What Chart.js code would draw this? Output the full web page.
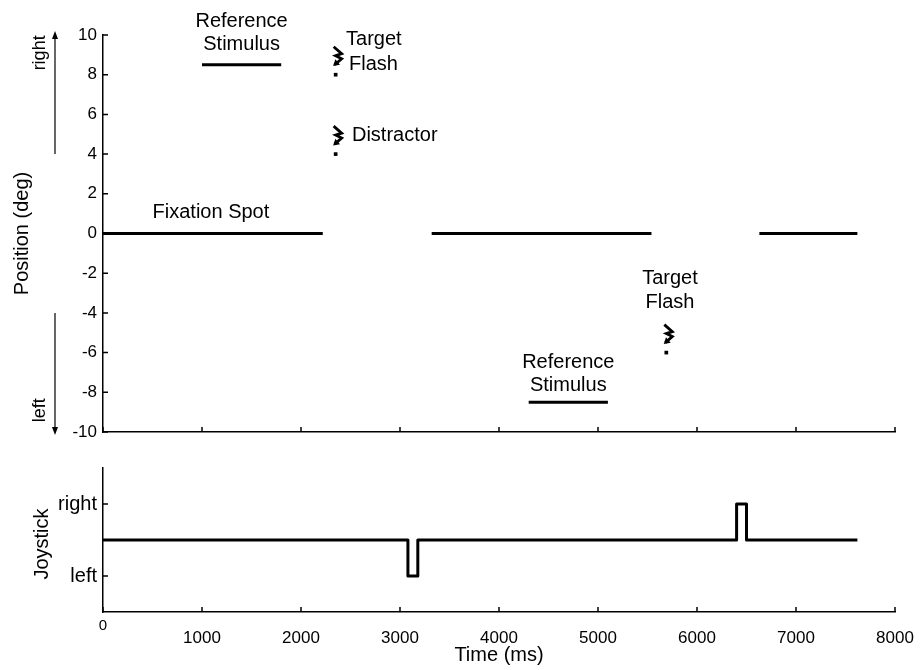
<!DOCTYPE html>
<html>
<head>
<meta charset="utf-8">
<script src="https://cdn.jsdelivr.net/npm/chart.js@4.4.1/dist/chart.umd.min.js"></script>
<style>
  html, body { margin: 0; padding: 0; background: #fff; }
  #wrap { position: relative; width: 923px; height: 670px; }
  #wrap canvas { position: absolute; left: 0; }
  #posChart { top: 0; }
  #joyChart { top: 450px; }
</style>
</head>
<body>
<div id="wrap">
  <canvas id="posChart" width="923" height="450"></canvas>
  <canvas id="joyChart" width="923" height="220"></canvas>
</div>
<script>
// fixation spot on screen (ms)
const fixStart = [0, 3320, 6630];
const fixEnd = [2220, 5540, 7620];

// reference stimulus bars
const refStart = [1000, 4300];
const refEnd = [1800, 5100];
const refPos = [8.5, -8.5];

// flashes
const flashTime = [2350, 2350, 5690];
const flashPos = [8, 4, -6];

// joystick trace
const joyTime = [0, 3080, 3080, 3180, 3180, 6400, 6400, 6500, 6500, 7620];
const joyPos = [0, 0, -1, -1, 0, 0, 1, 1, 0, 0];
const joyTickValues = [-1, 1];
const joyTickLabels = ['left', 'right'];

const FONT = 'Liberation Sans, Arial, Helvetica, sans-serif';

// text labels placed in data coordinates
const notes = [
  { text: 'Reference', x: 1400, y: 10.7, align: 'center' },
  { text: 'Stimulus', x: 1400, y: 9.5, align: 'center' },
  { text: 'Target', x: 2455, y: 9.77, align: 'left' },
  { text: 'Flash', x: 2485, y: 8.5, align: 'left' },
  { text: 'Distractor', x: 2515, y: 4.94, align: 'left' },
  { text: 'Fixation Spot', x: 1090, y: 1.06, align: 'center' },
  { text: 'Target', x: 5727, y: -2.27, align: 'center' },
  { text: 'Flash', x: 5727, y: -3.48, align: 'center' },
  { text: 'Reference', x: 4700, y: -6.5, align: 'center' },
  { text: 'Stimulus', x: 4700, y: -7.66, align: 'center' },
];

Chart.defaults.font.family = FONT;
Chart.defaults.color = '#000';

function segment(x0, x1, y) {
  return {
    data: [{ x: x0, y: y }, { x: x1, y: y }],
    showLine: true,
    borderColor: '#000',
    borderWidth: 3,
    pointRadius: 0,
    borderCapStyle: 'butt',
  };
}

function inwardTicks(ctx, x, y) {
  ctx.save();
  ctx.strokeStyle = '#000';
  ctx.lineWidth = 1.5;
  ctx.beginPath();
  x.ticks.forEach((t) => {
    const px = x.getPixelForValue(t.value);
    ctx.moveTo(px, x.top);
    ctx.lineTo(px, x.top - 5);
  });
  y.ticks.forEach((t) => {
    const py = y.getPixelForValue(t.value);
    ctx.moveTo(y.right, py);
    ctx.lineTo(y.right + 5, py);
  });
  ctx.stroke();
  ctx.restore();
}

function drawFlash(ctx, px, py) {
  const pts = [[-2, -28], [6, -21], [0, -19], [6, -16], [-1, -10]];
  ctx.save();
  ctx.strokeStyle = '#000';
  ctx.fillStyle = '#000';
  ctx.lineWidth = 2.8;
  ctx.lineJoin = 'miter';
  ctx.beginPath();
  pts.forEach((p, i) => {
    if (i === 0) ctx.moveTo(px + p[0], py + p[1]);
    else ctx.lineTo(px + p[0], py + p[1]);
  });
  ctx.stroke();
  // arrow head at the tip
  const a = pts[3], b = pts[4];
  const ang = Math.atan2(b[1] - a[1], b[0] - a[0]);
  const tx = px + b[0] + Math.cos(ang) * 2, ty = py + b[1] + Math.sin(ang) * 2;
  ctx.beginPath();
  ctx.moveTo(tx, ty);
  ctx.lineTo(tx + Math.cos(ang + 2.6) * 7, ty + Math.sin(ang + 2.6) * 7);
  ctx.lineTo(tx + Math.cos(ang - 2.6) * 7, ty + Math.sin(ang - 2.6) * 7);
  ctx.closePath();
  ctx.fill();
  ctx.restore();
}

function vArrow(ctx, x, y0, y1) {
  const dir = y1 < y0 ? -1 : 1;
  ctx.save();
  ctx.strokeStyle = '#000';
  ctx.fillStyle = '#000';
  ctx.lineWidth = 1.2;
  ctx.beginPath();
  ctx.moveTo(x, y0);
  ctx.lineTo(x, y1 - dir * 6);
  ctx.stroke();
  ctx.beginPath();
  ctx.moveTo(x, y1);
  ctx.lineTo(x - 3, y1 - dir * 8);
  ctx.lineTo(x + 3, y1 - dir * 8);
  ctx.closePath();
  ctx.fill();
  ctx.restore();
}

function rotText(ctx, text, x, y, size) {
  ctx.save();
  ctx.translate(x, y);
  ctx.rotate(-Math.PI / 2);
  ctx.font = size + 'px ' + FONT;
  ctx.fillStyle = '#000';
  ctx.textAlign = 'center';
  ctx.textBaseline = 'middle';
  ctx.fillText(text, 0, 0);
  ctx.restore();
}

const posDecor = {
  id: 'posDecor',
  afterDraw(chart) {
    const { ctx } = chart;
    const { x, y } = chart.scales;
    inwardTicks(ctx, x, y);

    flashTime.forEach((t, i) => {
      drawFlash(ctx, x.getPixelForValue(t), y.getPixelForValue(flashPos[i]));
    });

    ctx.save();
    ctx.font = '20px ' + FONT;
    ctx.fillStyle = '#000';
    ctx.textBaseline = 'middle';
    notes.forEach((n) => {
      ctx.textAlign = n.align;
      ctx.fillText(n.text, x.getPixelForValue(n.x), y.getPixelForValue(n.y));
    });
    ctx.restore();

    vArrow(ctx, 55, y.getPixelForValue(4), y.getPixelForValue(10) - 4);
    vArrow(ctx, 55, y.getPixelForValue(-4), y.getPixelForValue(-10) + 3);
    rotText(ctx, 'right', 40, y.getPixelForValue(9.1), 18);
    rotText(ctx, 'left', 40, y.getPixelForValue(-8.9), 18);
    rotText(ctx, 'Position (deg)', 22, y.getPixelForValue(0), 20);
  },
};

const joyDecor = {
  id: 'joyDecor',
  afterDraw(chart) {
    const { ctx } = chart;
    const { x, y } = chart.scales;
    inwardTicks(ctx, x, y);
    rotText(ctx, 'Joystick', 42, y.getPixelForValue(0) + 4, 20);
    ctx.save();
    ctx.fillStyle = '#000';
    ctx.textAlign = 'center';
    ctx.textBaseline = 'middle';
    ctx.font = '20px ' + FONT;
    ctx.fillText('Time (ms)', x.getPixelForValue(4000), 205);
    ctx.font = '15px ' + FONT;
    ctx.fillText('0', x.getPixelForValue(0), 176);
    ctx.restore();
  },
};

const axisBorder = { display: true, color: '#000', width: 1.5 };
const noGrid = { display: false, drawTicks: false };

new Chart(document.getElementById('posChart'), {
  type: 'scatter',
  data: {
    datasets: [
      ...fixStart.map((s, i) => segment(s, fixEnd[i], 0)),
      ...refStart.map((s, i) => segment(s, refEnd[i], refPos[i])),
      {
        data: flashTime.map((t, i) => ({ x: t, y: flashPos[i] })),
        pointStyle: 'rect',
        pointRadius: 2.6,
        pointBorderWidth: 0,
        pointBackgroundColor: '#000',
      },
    ],
  },
  options: {
    responsive: false,
    animation: false,
    layout: { padding: { top: 35, right: 28, left: 0, bottom: 0 } },
    plugins: { legend: { display: false }, tooltip: { enabled: false } },
    scales: {
      x: {
        type: 'linear',
        min: 0,
        max: 8000,
        grid: noGrid,
        border: axisBorder,
        ticks: { display: false, stepSize: 1000 },
        afterFit: (s) => { s.height = 18; s.paddingLeft = 0; s.paddingRight = 0; },
      },
      y: {
        min: -10,
        max: 10,
        grid: noGrid,
        border: axisBorder,
        ticks: { stepSize: 2, padding: 6, font: { size: 17 } },
        afterFit: (s) => { s.width = 103; },
      },
    },
  },
  plugins: [posDecor],
});

new Chart(document.getElementById('joyChart'), {
  type: 'scatter',
  data: {
    datasets: [
      {
        data: joyTime.map((t, i) => ({ x: t, y: joyPos[i] })),
        showLine: true,
        borderColor: '#000',
        borderWidth: 3,
        pointRadius: 0,
        borderJoinStyle: 'round',
      },
    ],
  },
  options: {
    responsive: false,
    animation: false,
    layout: { padding: { top: 18, right: 28, left: 0, bottom: 0 } },
    plugins: { legend: { display: false }, tooltip: { enabled: false } },
    scales: {
      x: {
        type: 'linear',
        min: 0,
        max: 8000,
        grid: noGrid,
        border: axisBorder,
        ticks: {
          stepSize: 1000,
          padding: 16,
          font: { size: 17 },
          callback: (v) => (v === 0 ? '' : v),
        },
        afterFit: (s) => { s.height = 58; s.paddingLeft = 0; s.paddingRight = 0; },
      },
      y: {
        min: -2,
        max: 2,
        grid: noGrid,
        border: axisBorder,
        afterBuildTicks: (s) => { s.ticks = joyTickValues.map((v) => ({ value: v })); },
        ticks: {
          padding: 6,
          font: { size: 20 },
          callback: (v) => joyTickLabels[joyTickValues.indexOf(v)],
        },
        afterFit: (s) => { s.width = 103; },
      },
    },
  },
  plugins: [joyDecor],
});
</script>
</body>
</html>
